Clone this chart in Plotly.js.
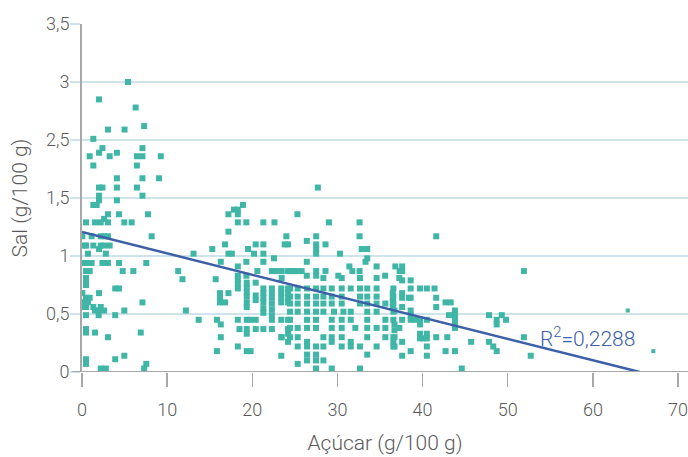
<!DOCTYPE html>
<html>
<head>
<meta charset="utf-8">
<script src="https://cdn.plot.ly/plotly-3.0.1.min.js"></script>
<style>html,body{margin:0;padding:0;background:#fff;}#chart{width:688px;height:457px;}</style>
</head>
<body>
<div id="chart"></div>
<script>
// Açúcar (g/100 g) vs Sal (g/100 g)
const acucar = [
 5.4,2.0,6.3,7.3,3.05,5.0,1.33,2.4,7.1,0.9,2.0,4.1,3.25,6.45,7.1,9.25,1.33,6.45,4.1,7.1,9.05,
 2.0,2.4,4.1,6.45,2.0,2.0,7.1,1.33,1.72,4.1,3.05,4.35,7.75,2.6,0.47,1.53,2.2,3.05,4.97,5.83,0.04,1.13,2.2,2.6,3.05,8.18,0.3,0.47,1.33,2.2,2.6,3.25,2.0,0.7,2.8,0.04,0.47,1.13,2.4,3.05,4.35,7.55,0.47,0.9,4.78,6.03,11.3,0.47,
 0.47,0.47,0.04,2.0,3.9,4.35,0.47,0.9,0.27,0.7,0.04,0.47,1.33,2.2,1.53,1.96,2.6,1.96,4.97,7.1,0.47,3.9,0.47,0.47,1.53,6.9,3.05,4.97,3.9,0.47,0.47,7.55,7.3,2.2,2.8,
 11.8,15.7,18.9,17.85,18.3,17.2,18.3,18.3,19.3,21.3,22.6,17.2,24.0,16.8,20.4,21.3,23.8,24.2,15.3,19.5,13.1,17.2,17.6,20.2,21.3,22.55,16.3,19.3,21.3,18.3,20.6,22.3,22.75,23.4,24.2,19.3,18.3,
 18.3,18.3,18.3,19.35,19.35,19.35,19.35,19.35,19.35,20.4,21.3,21.3,21.3,21.3,21.3,21.3,22.3,22.3,22.3,22.3,22.3,22.3,22.3,23.4,23.4,23.4,23.4,24.2,24.2,24.2,24.2,16.2,16.2,16.2,16.8,17.2,20.4,20.4,12.2,13.7,15.85,16.3,18.3,19.35,19.8,20.4,23.4,24.2,18.5,19.35,19.35,20.4,21.3,22.3,24.2,24.2,16.3,23.4,24.2,18.3,15.85,19.35,19.8,23.4,
 27.7,25.3,29.0,32.6,27.5,32.6,26.4,27.5,27.5,27.5,28.6,30.3,32.85,33.5,33.5,33.3,26.4,34.6,36.8,23.45,24.5,24.9,25.3,25.8,27.5,27.5,28.6,31.4,31.75,32.6,35.6,26.4,30.1,37.3,
 23.45,28.35,30.5,32.65,34.6,37.27,
 24.43,25.33,26.43,27.48,28.35,29.33,30.5,31.56,32.65,33.5,34.6,36.57,
 24.43,25.33,26.43,27.48,28.35,29.33,30.5,32.65,33.5,34.6,36.57,
 24.43,25.33,26.43,27.48,28.35,29.33,30.5,32.65,33.5,34.6,35.63,36.57,
 24.43,25.33,26.43,27.48,28.35,29.6,30.7,31.56,33.5,34.6,36.57,
 24.43,26.43,27.48,29.33,30.5,31.56,33.5,35.63,36.57,
 24.43,25.33,26.43,27.48,29.33,30.5,32.1,33.5,34.6,35.63,37.27,
 23.45,24.43,25.33,28.35,29.33,30.5,33.5,35.63,36.57,
 26.43,29.33,31.56,36.57,
 25.33,26.43,27.48,28.35,30.5,31.56,32.65,34.6,36.57,
 26.43,27.48,33.5,
 26.43,27.48,28.35,
 25.33,
 27.48,29.33,32.65,
 41.6,37.6,37.6,37.6,38.6,38.6,39.7,40.5,41.4,36.5,36.5,36.5,36.5,37.6,37.6,38.4,38.6,41.6,41.6,42.7,43.3,36.7,37.6,38.6,38.6,38.6,39.1,37.6,39.7,39.7,40.5,43.1,43.8,43.8,43.8,43.8,43.8,36.7,36.7,36.7,36.7,39.7,39.7,40.1,40.5,40.5,41.6,42.9,37.6,45.7,47.8,48.7,48.7,49.3,49.8,47.8,48.3,48.7,40.5,38.6,42.7,43.8,37.6,40.5,44.6,
 51.9,51.9,52.7
];
const sal = [
 2.50,2.35,2.28,2.12,2.09,2.09,2.01,1.93,1.93,1.86,1.89,1.89,1.86,1.86,1.86,1.86,1.78,1.78,1.67,1.67,1.67,
 1.59,1.59,1.59,1.59,1.52,1.48,1.52,1.44,1.44,1.48,1.36,1.36,1.36,1.32,1.29,1.29,1.29,1.29,1.29,1.29,1.17,1.17,1.17,1.17,1.17,1.17,1.09,1.09,1.09,1.09,1.09,1.09,1.06,1.02,1.02,0.94,0.94,0.94,0.94,0.94,0.94,0.94,0.87,0.87,0.87,0.87,0.87,0.81,
 0.79,0.75,0.68,0.68,0.72,0.72,0.64,0.64,0.60,0.60,0.56,0.56,0.56,0.56,0.53,0.53,0.53,0.49,0.53,0.60,0.49,0.49,0.37,0.34,0.34,0.34,0.30,0.14,0.11,0.11,0.07,0.07,0.03,0.03,0.03,
 0.80,0.80,1.44,1.40,1.40,1.36,1.36,1.29,1.29,1.29,1.29,1.21,1.17,1.10,1.10,1.10,1.10,1.10,1.06,1.06,1.02,1.02,1.02,1.02,1.02,0.98,0.95,0.95,0.95,0.91,0.87,0.87,0.87,0.87,0.87,0.83,0.83,
 0.80,0.76,0.72,0.77,0.73,0.69,0.65,0.60,0.56,0.77,0.72,0.68,0.64,0.60,0.55,0.51,0.72,0.68,0.64,0.59,0.54,0.49,0.45,0.72,0.68,0.64,0.60,0.72,0.68,0.64,0.60,0.68,0.64,0.60,0.60,0.68,0.66,0.62,0.53,0.45,0.45,0.41,0.45,0.45,0.45,0.45,0.45,0.45,0.37,0.37,0.33,0.37,0.37,0.37,0.37,0.33,0.30,0.30,0.26,0.22,0.18,0.18,0.18,0.14,
 1.59,1.36,1.29,1.29,1.17,1.17,1.13,1.10,1.06,1.02,1.10,1.02,1.06,1.06,0.98,0.95,0.95,0.91,0.91,0.87,0.87,0.87,0.87,0.87,0.87,0.83,0.87,0.91,0.87,0.87,0.83,0.83,0.83,0.87,
 0.81,0.81,0.81,0.81,0.81,0.81,
 0.72,0.72,0.72,0.72,0.72,0.72,0.72,0.72,0.72,0.72,0.72,0.72,
 0.65,0.65,0.65,0.65,0.65,0.65,0.65,0.65,0.65,0.65,0.65,
 0.59,0.59,0.59,0.59,0.59,0.59,0.59,0.59,0.59,0.59,0.59,0.59,
 0.52,0.52,0.52,0.52,0.52,0.52,0.52,0.52,0.52,0.52,0.52,
 0.45,0.45,0.45,0.45,0.45,0.45,0.45,0.45,0.45,
 0.38,0.38,0.38,0.38,0.38,0.38,0.38,0.38,0.38,0.38,0.38,
 0.30,0.30,0.30,0.30,0.30,0.30,0.30,0.30,0.30,
 0.26,0.26,0.26,0.26,
 0.22,0.22,0.22,0.22,0.22,0.22,0.22,0.22,0.22,
 0.15,0.15,0.15,
 0.10,0.10,0.10,
 0.07,
 0.03,0.03,0.03,
 1.17,0.91,0.87,0.79,0.79,0.72,0.72,0.72,0.72,0.68,0.64,0.60,0.56,0.68,0.64,0.64,0.64,0.64,0.56,0.60,0.60,0.53,0.56,0.53,0.49,0.45,0.45,0.45,0.45,0.41,0.45,0.49,0.53,0.49,0.45,0.41,0.38,0.41,0.36,0.30,0.22,0.33,0.29,0.29,0.33,0.29,0.30,0.30,0.26,0.26,0.49,0.45,0.41,0.49,0.45,0.26,0.22,0.18,0.22,0.18,0.18,0.18,0.14,0.14,0.03,
 0.87,0.30,0.14
];
// two outlying points drawn with a smaller marker
const acucarOut = [64.1, 67.1];
const salOut = [0.53, 0.18];

// linear trend line
const trendIntercept = 1.207;
const trendSlope = -0.01843;
const trendX = [0, 65.5];
const r2Text = 'R<sup>2</sup>=0,2288';

const xTicks = [0,10,20,30,40,50,60,70];
const yTickVals = [0,0.5,1,1.5,2,2.5,3];
const yTickText = ['0','0,5','1','1,5','2,5','3','3,5'];

const FONT = 'Roboto, "DejaVu Sans Condensed", sans-serif';
const teal = '#3fb6a6';
const textGray = '#5a5a5a';

const traces = [
  {x: acucar, y: sal, type: 'scatter', mode: 'markers',
   marker: {symbol: 'square', size: 6, color: teal}, hoverinfo: 'none'},
  {x: acucarOut, y: salOut, type: 'scatter', mode: 'markers',
   marker: {symbol: 'square', size: 4, color: teal}, hoverinfo: 'none'},
  {x: trendX, y: trendX.map(v => trendIntercept + trendSlope * v), type: 'scatter', mode: 'lines',
   line: {color: '#3c5fa8', width: 2.5}, hoverinfo: 'none'}
];

const layout = {
  width: 688, height: 457,
  margin: {l: 82, r: 0, t: 24, b: 85},
  paper_bgcolor: '#fff', plot_bgcolor: '#fff',
  showlegend: false,
  font: {family: FONT, color: textGray, size: 17, weight: 300},
  xaxis: {
    range: [0, 71.17], tickvals: xTicks, ticktext: xTicks.map(String),
    showgrid: false, zeroline: false,
    showline: false,
    ticks: 'outside', ticklen: 14, tickwidth: 1.5, tickcolor: '#a8a8a8',
    ticklabelstandoff: 7,
    ticklabeloverflow: 'allow',
    tickfont: {family: FONT, size: 18, color: textGray, weight: 300},
    title: {text: 'Açúcar (g/100 g)', font: {family: FONT, size: 21, color: textGray, weight: 300}, standoff: 16}
  },
  yaxis: {
    range: [0, 3], tickvals: yTickVals, ticktext: yTickText,
    showgrid: true, gridcolor: '#cfe3ea', gridwidth: 1.5,
    zeroline: false,
    showline: true, linecolor: '#a8a8a8', linewidth: 2,
    ticks: 'outside', ticklen: 10, tickwidth: 1.5, tickcolor: '#cfe3ea',
    ticklabelstandoff: -3,
    tickfont: {family: FONT, size: 18, color: textGray, weight: 300},
    title: {text: 'Sal (g/100 g)', font: {family: FONT, size: 21, color: textGray, weight: 300}, standoff: 13}
  },
  shapes: [
    {type: 'line', xref: 'paper', yref: 'y', x0: -0.016, x1: 1, y0: 0, y1: 0,
     line: {color: '#a8a8a8', width: 2}}
  ],
  annotations: [
    {x: 59.4, y: 0.305, xref: 'x', yref: 'y', text: r2Text, showarrow: false,
     font: {family: FONT, size: 21, color: '#3c5fa8', weight: 300}}
  ]
};

Plotly.newPlot('chart', traces, layout, {staticPlot: true, displayModeBar: false});
</script>
</body>
</html>
